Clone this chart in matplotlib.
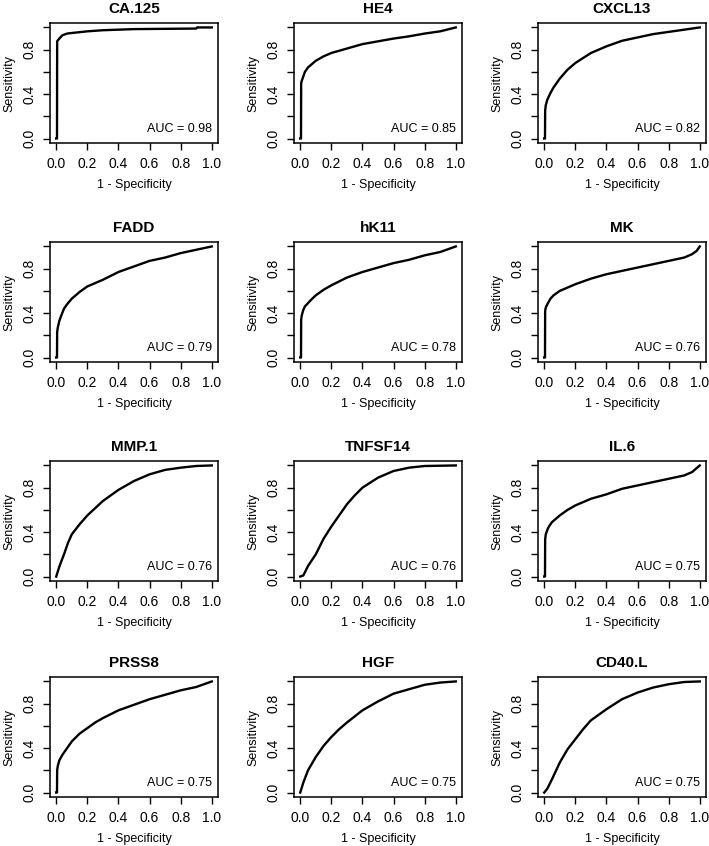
import matplotlib
matplotlib.use("Agg")
import matplotlib.pyplot as plt

plt.rcParams['font.family'] = ['Liberation Sans', 'DejaVu Sans']

# markers in panel order (row by row)
names = ['CA.125', 'HE4', 'CXCL13', 'FADD', 'hK11', 'MK',
         'MMP.1', 'TNFSF14', 'IL.6', 'PRSS8', 'HGF', 'CD40.L']
auc = [0.98, 0.85, 0.82, 0.79, 0.78, 0.76, 0.76, 0.76, 0.75, 0.75, 0.75, 0.75]

# 1 - specificity / sensitivity
fpr_ca125 = [0, 0.005, 0.006, 0.02, 0.04, 0.07, 0.1, 0.2, 0.3, 0.5, 0.9, 0.905, 1.0]
tpr_ca125 = [0, 0.0, 0.876, 0.90, 0.93, 0.945, 0.95, 0.965, 0.975, 0.985, 0.99, 1.0, 1.0]

fpr_he4 = [0, 0.005, 0.006, 0.01, 0.02, 0.03, 0.05, 0.1, 0.15, 0.2, 0.3, 0.4, 0.5, 0.6, 0.7, 0.8, 0.9, 1.0]
tpr_he4 = [0, 0.0, 0.50, 0.52, 0.56, 0.60, 0.64, 0.70, 0.74, 0.77, 0.81, 0.85, 0.875, 0.90, 0.92, 0.945, 0.965, 1.0]

fpr_cxcl13 = [0, 0.005, 0.006, 0.01, 0.02, 0.04, 0.06, 0.08, 0.1, 0.15, 0.2, 0.3, 0.4, 0.5, 0.6, 0.7, 0.8, 0.9, 1.0]
tpr_cxcl13 = [0, 0.0, 0.25, 0.30, 0.35, 0.41, 0.46, 0.50, 0.54, 0.62, 0.68, 0.77, 0.83, 0.88, 0.91, 0.94, 0.96, 0.98, 1.0]

fpr_fadd = [0, 0.005, 0.006, 0.01, 0.02, 0.03, 0.05, 0.07, 0.1, 0.15, 0.2, 0.3, 0.4, 0.5, 0.6, 0.7, 0.8, 0.9, 1.0]
tpr_fadd = [0, 0.0, 0.23, 0.27, 0.33, 0.37, 0.44, 0.48, 0.53, 0.59, 0.64, 0.70, 0.77, 0.82, 0.87, 0.90, 0.94, 0.97, 1.0]

fpr_hk11 = [0, 0.005, 0.006, 0.01, 0.02, 0.03, 0.05, 0.07, 0.1, 0.15, 0.2, 0.3, 0.4, 0.5, 0.6, 0.7, 0.8, 0.9, 1.0]
tpr_hk11 = [0, 0.0, 0.34, 0.38, 0.43, 0.46, 0.49, 0.52, 0.56, 0.61, 0.65, 0.72, 0.77, 0.81, 0.85, 0.88, 0.92, 0.95, 1.0]

fpr_mk = [0, 0.005, 0.006, 0.01, 0.02, 0.04, 0.06, 0.1, 0.15, 0.2, 0.3, 0.4, 0.5, 0.6, 0.7, 0.8, 0.9, 0.95, 0.98, 1.0]
tpr_mk = [0, 0.0, 0.42, 0.45, 0.48, 0.53, 0.56, 0.60, 0.63, 0.66, 0.71, 0.75, 0.78, 0.81, 0.84, 0.87, 0.90, 0.93, 0.96, 1.0]

fpr_mmp1 = [0, 0.02, 0.05, 0.075, 0.1, 0.15, 0.2, 0.3, 0.4, 0.5, 0.6, 0.7, 0.8, 0.9, 1.0]
tpr_mmp1 = [0, 0.09, 0.20, 0.30, 0.38, 0.47, 0.55, 0.68, 0.78, 0.86, 0.92, 0.96, 0.98, 0.995, 1.0]

fpr_tnfsf14 = [0, 0.02, 0.05, 0.1, 0.15, 0.2, 0.25, 0.3, 0.35, 0.4, 0.5, 0.6, 0.7, 0.8, 1.0]
tpr_tnfsf14 = [0, 0.01, 0.095, 0.20, 0.34, 0.45, 0.55, 0.65, 0.73, 0.80, 0.89, 0.95, 0.98, 0.995, 1.0]

fpr_il6 = [0, 0.005, 0.006, 0.01, 0.02, 0.03, 0.05, 0.1, 0.15, 0.2, 0.3, 0.4, 0.5, 0.6, 0.7, 0.8, 0.9, 0.95, 1.0]
tpr_il6 = [0, 0.0, 0.335, 0.38, 0.42, 0.45, 0.49, 0.55, 0.60, 0.64, 0.70, 0.74, 0.79, 0.82, 0.85, 0.88, 0.91, 0.94, 1.0]

fpr_prss8 = [0, 0.005, 0.006, 0.01, 0.02, 0.04, 0.06, 0.08, 0.1, 0.15, 0.2, 0.25, 0.3, 0.4, 0.5, 0.6, 0.7, 0.8, 0.9, 1.0]
tpr_prss8 = [0, 0.0, 0.20, 0.24, 0.29, 0.34, 0.38, 0.42, 0.46, 0.53, 0.58, 0.63, 0.67, 0.74, 0.79, 0.84, 0.88, 0.92, 0.95, 1.0]

fpr_hgf = [0, 0.02, 0.05, 0.1, 0.15, 0.2, 0.25, 0.3, 0.4, 0.5, 0.6, 0.7, 0.8, 0.9, 1.0]
tpr_hgf = [0, 0.09, 0.20, 0.32, 0.42, 0.50, 0.57, 0.63, 0.74, 0.82, 0.89, 0.93, 0.97, 0.99, 1.0]

fpr_cd40l = [0, 0.02, 0.05, 0.1, 0.15, 0.2, 0.25, 0.3, 0.4, 0.5, 0.6, 0.7, 0.8, 0.9, 1.0]
tpr_cd40l = [0, 0.035, 0.12, 0.27, 0.39, 0.48, 0.57, 0.65, 0.75, 0.84, 0.90, 0.945, 0.975, 0.995, 1.0]

fprs = [fpr_ca125, fpr_he4, fpr_cxcl13, fpr_fadd, fpr_hk11, fpr_mk,
        fpr_mmp1, fpr_tnfsf14, fpr_il6, fpr_prss8, fpr_hgf, fpr_cd40l]
tprs = [tpr_ca125, tpr_he4, tpr_cxcl13, tpr_fadd, tpr_hk11, tpr_mk,
        tpr_mmp1, tpr_tnfsf14, tpr_il6, tpr_prss8, tpr_hgf, tpr_cd40l]

W, H = 709, 846
fig = plt.figure(figsize=(W / 100, H / 100), dpi=100)

lefts = [50, 294, 538]
tops = [23, 242, 461, 677]
bw, bh = 168, 120

for i in range(12):
    r, c = divmod(i, 3)
    ax = fig.add_axes([lefts[c] / W, 1 - (tops[r] + bh) / H, bw / W, bh / H])
    ax.plot(fprs[i], tprs[i], color='black', lw=1.7)
    ax.set_xlim(-0.04, 1.04)
    ax.set_ylim(-0.04, 1.04)
    ax.set_xticks([0, 0.2, 0.4, 0.6, 0.8, 1.0])
    ax.set_xticklabels(['0.0', '0.2', '0.4', '0.6', '0.8', '1.0'], fontsize=10)
    ax.set_yticks([0, 0.2, 0.4, 0.6, 0.8, 1.0])
    ax.set_yticklabels(['0.0', '', '0.4', '', '0.8', ''], fontsize=10,
                       rotation=90, va='center')
    ax.tick_params(direction='out', length=5, width=1, pad=5, color='black')
    for s in ax.spines.values():
        s.set_linewidth(1.1)
    ax.set_title(names[i], fontsize=11, fontweight='bold', pad=7)
    ax.set_xlabel('1 - Specificity', fontsize=9, labelpad=6)
    ax.set_ylabel('Sensitivity', fontsize=9, labelpad=5)
    ax.text(1.0, 0.09, 'AUC = %.2f' % auc[i], ha='right', va='center', fontsize=9)

fig.savefig('out.png', dpi=100)
